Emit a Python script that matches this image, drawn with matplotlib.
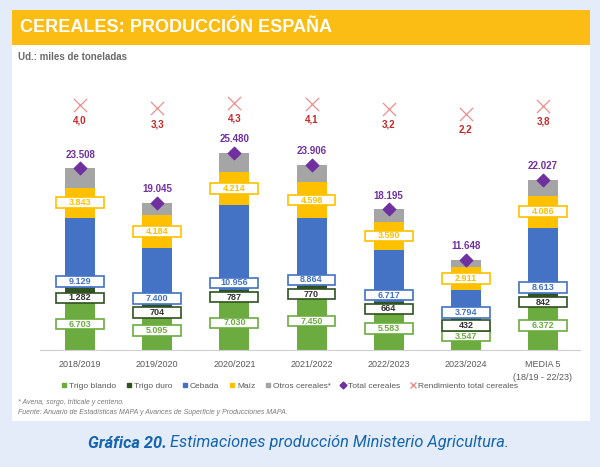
import matplotlib
matplotlib.use("Agg")
import matplotlib.pyplot as plt
import numpy as np
from matplotlib.patches import Rectangle
from matplotlib.lines import Line2D

plt.rcParams['font.family'] = ['Liberation Sans', 'DejaVu Sans']

# datos (miles de toneladas)
campaigns = ["2018/2019", "2019/2020", "2020/2021", "2021/2022",
             "2022/2023", "2023/2024", "MEDIA 5\n(18/19 - 22/23)"]
trigo_blando = [6703, 5095, 7030, 7450, 5583, 3547, 6372]
trigo_duro = [1282, 704, 787, 770, 664, 432, 842]
cebada = [9129, 7400, 10956, 8864, 6717, 3794, 8613]
maiz = [3843, 4184, 4214, 4598, 3590, 2911, 4086]
total = [23508, 19045, 25480, 23906, 18195, 11648, 22027]
rendimiento = [4.0, 3.3, 4.3, 4.1, 3.2, 2.2, 3.8]
otros = [t - a - b - c - d for t, a, b, c, d in zip(total, trigo_blando, trigo_duro, cebada, maiz)]

c_blando = "#6cab3f"
c_duro = "#2f5220"
c_cebada = "#4472c4"
c_maiz = "#ffc000"
c_otros = "#a5a5a5"
c_total = "#7030a0"
c_rend = "#ec8f8f"
c_rend_txt = "#c62828"


def fmt(v):
    return "{:,}".format(v).replace(",", ".")


fig = plt.figure(figsize=(6, 4.67), dpi=100)
fig.patch.set_facecolor("#e3ecf8")

W, H = 600.0, 467.0
# panel blanco y cabecera amarilla
fig.add_artist(Rectangle((12 / W, 1 - 421 / H), 578 / W, 411 / H,
                         transform=fig.transFigure, facecolor="white", edgecolor="none", zorder=0))
fig.add_artist(Rectangle((12 / W, 1 - 45 / H), 578 / W, 35 / H,
                         transform=fig.transFigure, facecolor="#fbbc13", edgecolor="none", zorder=1))
fig.text(20 / W, 1 - 28 / H, "CEREALES: PRODUCCIÓN ESPAÑA", color="white",
         fontsize=13, fontweight="bold", va="center", ha="left")
fig.text(18 / W, 1 - 57 / H, "Ud.: miles de toneladas", color="#6b6b6b",
         fontsize=7, fontweight="bold", va="center", ha="left")

ax = fig.add_axes([40 / W, 1 - 350 / H, 540 / W, 260 / H])
ax.set_facecolor("none")
x = np.arange(len(campaigns))
bw = 0.39

b0 = np.zeros(len(x))
series = [(trigo_blando, c_blando), (trigo_duro, c_duro), (cebada, c_cebada),
          (maiz, c_maiz), (otros, c_otros)]
bottoms = []
for vals, col in series:
    ax.bar(x, vals, bw, bottom=b0, color=col, zorder=2)
    bottoms.append(b0.copy())
    b0 = b0 + np.array(vals)

ax.set_xlim(-0.52, 6.48)
ax.set_ylim(0, 33600)

box_w = 0.62
box_h = 1350


def label_box(xc, yc, txt, edge, tcol):
    ax.add_patch(Rectangle((xc - box_w / 2, yc - box_h / 2), box_w, box_h,
                           facecolor="white", edgecolor=edge, linewidth=1.2, zorder=3))
    ax.text(xc, yc, txt, ha="center", va="center", fontsize=6.5,
            color=tcol, fontweight="bold", zorder=4)


for i in range(len(x)):
    label_box(x[i], bottoms[0][i] + trigo_blando[i] / 2, fmt(trigo_blando[i]), c_blando, c_blando)
    label_box(x[i], bottoms[1][i] + trigo_duro[i] / 2 - 600, fmt(trigo_duro[i]), c_duro, "#333333")
    label_box(x[i], bottoms[2][i] + 850, fmt(cebada[i]), c_cebada, c_cebada)
    label_box(x[i], bottoms[3][i] + maiz[i] / 2, fmt(maiz[i]), c_maiz, c_maiz)
    # total
    ax.text(x[i], total[i] + 1750, fmt(total[i]), ha="center", va="center",
            fontsize=7, color=c_total, fontweight="bold", zorder=4)

ax.scatter(x, total, marker="D", s=40, color=c_total, zorder=5)

ax2 = ax.twinx()
ax2.set_ylim(-42.8, 6.8)
ax2.scatter(x, rendimiento, marker="x", s=90, color=c_rend, linewidths=0.9, zorder=5)
for i in range(len(x)):
    ax2.text(x[i], rendimiento[i] - 3.0, "{:.1f}".format(rendimiento[i]).replace(".", ","),
             ha="center", va="center", fontsize=7, color=c_rend_txt, fontweight="bold")
ax2.axis("off")

for s in ["top", "right", "left"]:
    ax.spines[s].set_visible(False)
ax.spines["bottom"].set_color("#d0d0d0")
ax.spines["bottom"].set_linewidth(0.8)
ax.set_yticks([])
ax.set_xticks(x)
ax.set_xticklabels(campaigns, fontsize=6.5, color="#595959", linespacing=1.6)
ax.tick_params(axis="x", length=0, pad=7)

handles = [
    Line2D([], [], marker="s", color=c_blando, linestyle="none", markersize=3.5),
    Line2D([], [], marker="s", color=c_duro, linestyle="none", markersize=3.5),
    Line2D([], [], marker="s", color=c_cebada, linestyle="none", markersize=3.5),
    Line2D([], [], marker="s", color=c_maiz, linestyle="none", markersize=3.5),
    Line2D([], [], marker="s", color=c_otros, linestyle="none", markersize=3.5),
    Line2D([], [], marker="D", color=c_total, linestyle="none", markersize=3.5),
    Line2D([], [], marker="x", color=c_rend, linestyle="none", markersize=5),
]
labels = ["Trigo blando", "Trigo duro", "Cebada", "Maíz", "Otros cereales*",
          "Total cereales", "Rendimiento total cereales"]
leg = fig.legend(handles, labels, loc="center", bbox_to_anchor=(289 / W, 1 - 386 / H),
                 ncol=7, frameon=False, fontsize=6, handletextpad=0.1,
                 columnspacing=1.0, handlelength=1.0)
for t in leg.get_texts():
    t.set_color("#595959")

fig.text(18 / W, 1 - 403 / H, "* Avena, sorgo, triticale y centeno.", fontsize=5,
         style="italic", color="#7a7a7a", va="center")
fig.text(18 / W, 1 - 412 / H,
         "Fuente: Anuario de Estadísticas MAPA y Avances de Superficie y Producciones MAPA.",
         fontsize=5, style="italic", color="#7a7a7a", va="center")

# pie de gráfica: parte en negrita + resto
cap1 = fig.text(88 / W, 1 - 443 / H, "Gráfica 20.", fontsize=11.8, fontweight="bold",
                style="italic", color="#1565b0", va="center", ha="left", family="Roboto")
fig.canvas.draw()
bb = cap1.get_window_extent()
fig.text(bb.x1 / W + 3 / W, 1 - 443 / H, "Estimaciones producción Ministerio Agricultura.",
         fontsize=11.8, style="italic", color="#1565b0", va="center", ha="left", family="Roboto")

fig.savefig("out.png", dpi=100, facecolor=fig.get_facecolor())
